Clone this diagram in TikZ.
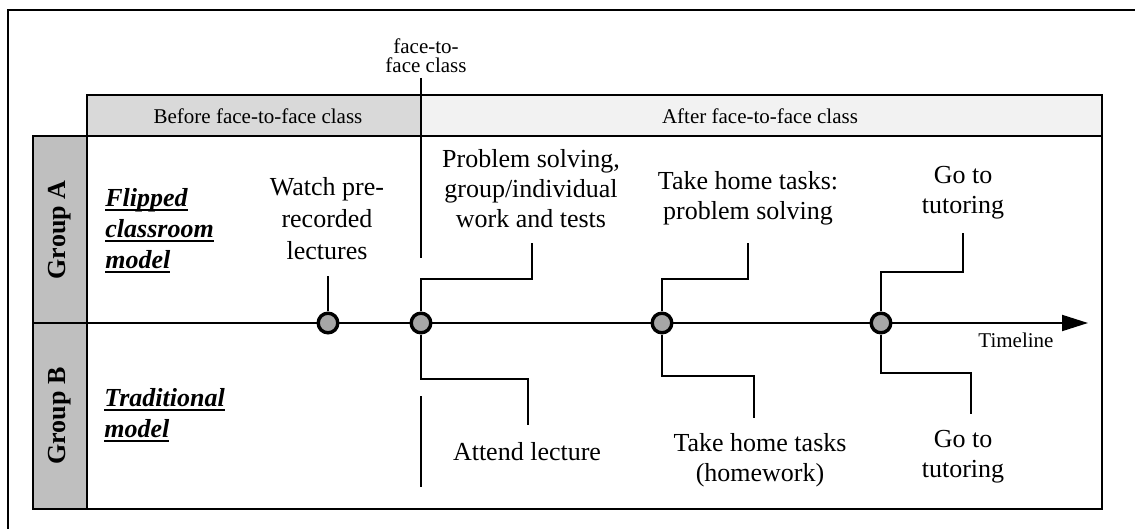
\documentclass[tikz,border=0pt]{standalone}
\usepackage{fontspec}
\setmainfont{Liberation Serif}
\newcommand\myul[1]{\setbox0\hbox{#1}\rlap{\rule[-2.2pt]{\wd0}{0.9pt}}\box0}
\usetikzlibrary{arrows.meta}
\definecolor{colgray}{HTML}{BFBFBF}
\definecolor{hdrA}{HTML}{D9D9D9}
\definecolor{hdrB}{HTML}{F2F2F2}
\definecolor{dotgray}{HTML}{A6A6A6}
\begin{document}
\begin{tikzpicture}[x=0.5pt,y=-0.5pt,
  boxline/.style={line width=1.3pt},
  conn/.style={line width=0.6pt},
  lbl/.style={font=\fontsize{13}{15}\selectfont, align=center, inner sep=0pt},
  hdr/.style={font=\fontsize{10.5}{12}\selectfont, inner sep=0pt},
  model/.style={anchor=west, align=left, inner sep=0pt, font=\bfseries\itshape\fontsize{13}{15.5}\selectfont},
  grp/.style={rotate=90, inner sep=0pt, font=\bfseries\fontsize{13}{15}\selectfont},
  dot/.style={circle, draw, line width=1.7pt, fill=dotgray, minimum size=9.8pt, inner sep=0pt}]
\useasboundingbox (0,0) rectangle (1135,529);
% outer frame
\draw[line width=1pt] (8,529) -- (8,10) -- (1135,10);
% header
\draw[boxline, fill=hdrA] (87,95) rectangle (421,136);
\draw[boxline, fill=hdrB] (421,95) rectangle (1102,136);
\node[hdr] (before) at (258,116) {Before face-to-face class};
\node[hdr] (after) at (760,116) {After face-to-face class};
% main box
\draw[boxline] (87,136) rectangle (1102,509);
\draw[boxline, fill=colgray] (33,136) rectangle (87,323);
\draw[boxline, fill=colgray] (33,323) rectangle (87,509);
\node[grp] (ga) at (60,230) {Group A};
\node[grp] (gb) at (60,416) {Group B};
\node[model] (fm) at (105,231) {\myul{Flipped}\\\myul{classroom}\\\myul{model}};
\node[model] (tm) at (104,415) {\myul{Traditional}\\\myul{model}};
% face-to-face marker
\node[hdr, align=center, font=\fontsize{10.5}{9.5}\selectfont] (ftf) at (426,56) {face-to-\\face class};
\draw[line width=1.2pt] (421,78) -- (421,258);
\draw[line width=1.2pt] (421,396) -- (421,487);
% timeline
\coordinate (tstart) at (87,323);
\coordinate (tend) at (1088,323);
\draw[line width=1pt, -{Triangle[length=13pt,width=8pt]}] (tstart) -- (tend);
\node[hdr] (tl) at (1016,340) {Timeline};
% dots
\node[dot] (c1) at (328,323) {};
\node[dot] (c2) at (421,323) {};
\node[dot] (c3) at (662,323) {};
\node[dot] (c4) at (881,323) {};
% top connectors
\coordinate (u1) at (328,276);
\coordinate (k2) at (532,279); \coordinate (u2) at (532,243);
\coordinate (k3) at (748,279); \coordinate (u3) at (748,243);
\coordinate (k4) at (963,272); \coordinate (u4) at (963,233);
\draw[conn] (c1.north) -- (u1);
\draw[conn] (c2.north) |- (k2) -- (u2);
\draw[conn] (c3.north) |- (k3) -- (u3);
\draw[conn] (c4.north) |- (k4) -- (u4);
% bottom connectors
\coordinate (m2) at (528,379); \coordinate (d2) at (528,425);
\coordinate (m3) at (754,376); \coordinate (d3) at (754,418);
\coordinate (m4) at (971,373); \coordinate (d4) at (971,414);
\draw[conn] (c2.south) |- (m2) -- (d2);
\draw[conn] (c3.south) |- (m3) -- (d3);
\draw[conn] (c4.south) |- (m4) -- (d4);
% top labels
\node[lbl, font=\fontsize{13}{16}\selectfont] (watch) at (327,219) {Watch pre-\\recorded\\lectures};
\node[lbl] (ps) at (531,189) {Problem solving,\\group/individual\\work and tests};
\node[lbl] (th) at (748,198) {Take home tasks:\\problem solving};
\node[lbl] (gt) at (963,193) {Go to\\tutoring};
% bottom labels
\node[lbl] (al) at (527,452) {Attend lecture};
\node[lbl] (thb) at (760,460) {Take home tasks\\(homework)};
\node[lbl] (gtb) at (963,457) {Go to\\tutoring};
\end{tikzpicture}
\end{document}
